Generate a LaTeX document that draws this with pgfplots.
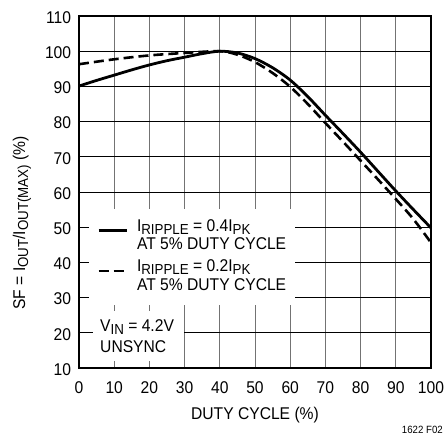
\documentclass[border=0pt]{standalone}
\usepackage{fontspec}
\setmainfont{Liberation Sans}[FakeStretch=0.92]
\usepackage{pgfplots}
\pgfplotsset{compat=1.18}
\newcommand\sub[1]{\raisebox{-0.18em}{\fontsize{14.5bp}{14.5bp}\selectfont #1}}
\begin{document}
\fontsize{17bp}{18.5bp}\selectfont
\begin{tikzpicture}
\begin{axis}[
  scale only axis, width=352bp, height=352bp,
  xmin=0, xmax=100, ymin=10, ymax=110,
  xtick={0,10,...,100}, ytick={10,20,...,110},
  /pgf/number format/assume math mode=true,
  grid=major,
  x grid style={black!55, line width=0.9bp},
  y grid style={black, line width=0.9bp},
  major tick length=0pt,
  axis line style={line width=1.2bp},
  xticklabel style={anchor=base, yshift=-25.5bp},
  yticklabel style={anchor=east, xshift=-2bp, yshift=-1.5bp},
  xlabel={DUTY CYCLE (\%)},
  xlabel style={at={(axis description cs:0.5,-0.145)}, anchor=base},
  ylabel={SF = I\sub{OUT}/I\sub{OUT(MAX)} (\%)},
  ylabel style={at={(axis description cs:-0.162,0.412)}, anchor=center},
  legend cell align=left,
  legend style={at={(axis cs:2.7,55.1)}, anchor=north west, draw=none, fill=white,
    inner xsep=8.5bp, inner ysep=9bp, row sep=3.5bp, column sep=9bp,
    cells={anchor=base west}, nodes={inner sep=0pt, text depth=}},
  legend image code/.code={\draw[#1] (0bp,1bp) -- (28bp,1bp);},
  clip=false,
]
\addplot[black, line width=2.8bp, smooth] coordinates {
(0,90.1)(5,91.7)(10,93.2)(15,94.7)(20,96.1)(25,97.3)(30,98.3)(35,99.3)(40,100)
(45,99.5)(50,97.9)(55,95.3)(60,91.8)(65,87.1)(70,81.8)(75,76.6)(80,71.3)(85,65.8)(90,60.3)(95,55.0)(100,49.8)};
\addlegendentry{\begin{tabular}[t]{@{}l@{}}I\sub{RIPPLE} = 0.4I\sub{PK}\\AT 5\% DUTY CYCLE\end{tabular}}
\addplot[black, line width=2.6bp, dash pattern=on 10bp off 5bp, smooth] coordinates {
(0,96.3)(10,97.7)(20,98.8)(30,99.5)(40,100)
(45,99.0)(50,96.9)(55,93.8)(60,89.9)(65,85.0)(70,79.6)(75,74.3)(80,68.9)(85,63.5)(90,58.0)(95,52.3)(100,45.6)};
\addlegendentry{\begin{tabular}[t]{@{}l@{}}I\sub{RIPPLE} = 0.2I\sub{PK}\\AT 5\% DUTY CYCLE\end{tabular}}
\fill[white] (axis cs:4,12) rectangle (axis cs:29.7,26.2);
\node[anchor=base west, inner sep=0pt] at (axis cs:5.97,20.5) {V\sub{IN} = 4.2V};
\node[anchor=base west, inner sep=0pt] at (axis cs:5.97,14.5) {UNSYNC};
\node[anchor=base east, inner sep=0pt, font=\fontsize{10.5bp}{10.5bp}\selectfont] at (axis cs:103.4,-8.5) {1622 F02};
\end{axis}
\pgfresetboundingbox
\path[use as bounding box] ([shift={(-79bp,-67bp)}]current axis.south west) rectangle ([shift={(16bp,16bp)}]current axis.north east);
\end{tikzpicture}
\end{document}
